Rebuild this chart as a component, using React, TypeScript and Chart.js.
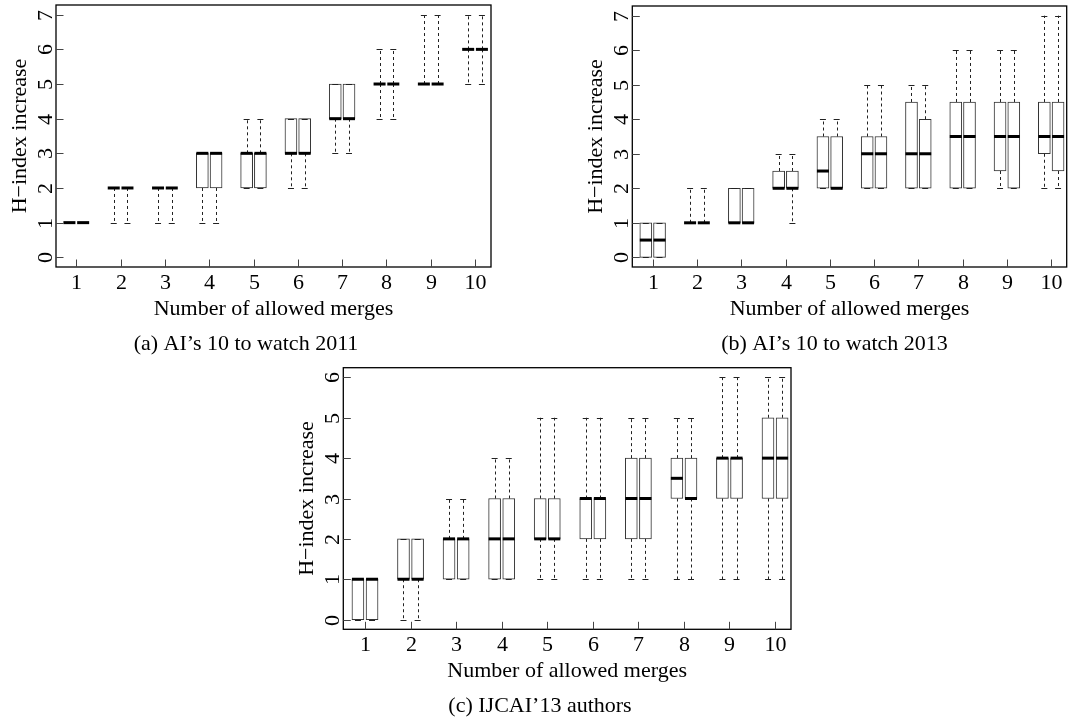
import React, { useEffect, useRef } from 'react';
import { Chart, registerables } from 'chart.js';

Chart.register(...registerables);

// ---------- data ----------
const categories = [1, 2, 3, 4, 5, 6, 7, 8, 9, 10];
const xTickLabels = ['1', '2', '3', '4', '5', '6', '7', '8', '9', '10'];
const yTickLabels7 = ['0', '1', '2', '3', '4', '5', '6', '7'];
const yTickLabels6 = ['0', '1', '2', '3', '4', '5', '6'];

// (a) AI's 10 to watch 2011
const aLeftLow = [1, 1, 1, 1, 2, 2, 3, 4, 5, 5];
const aLeftQ1 = [1, 2, 2, 2, 2, 3, 4, 5, 5, 6];
const aLeftMed = [1, 2, 2, 3, 3, 3, 4, 5, 5, 6];
const aLeftQ3 = [1, 2, 2, 3, 3, 4, 5, 5, 5, 6];
const aLeftHigh = [1, 2, 2, 3, 4, 4, 5, 6, 7, 7];
const aRightLow = [1, 1, 1, 1, 2, 2, 3, 4, 5, 5];
const aRightQ1 = [1, 2, 2, 2, 2, 3, 4, 5, 5, 6];
const aRightMed = [1, 2, 2, 3, 3, 3, 4, 5, 5, 6];
const aRightQ3 = [1, 2, 2, 3, 3, 4, 5, 5, 5, 6];
const aRightHigh = [1, 2, 2, 3, 4, 4, 5, 6, 7, 7];

// (b) AI's 10 to watch 2013
const bLeftLow = [0, 1, 1, 2, 2, 2, 2, 2, 2, 2];
const bLeftQ1 = [0, 1, 1, 2, 2, 2, 2, 2, 2.5, 3];
const bLeftMed = [0.5, 1, 1, 2, 2.5, 3, 3, 3.5, 3.5, 3.5];
const bLeftQ3 = [1, 1, 2, 2.5, 3.5, 3.5, 4.5, 4.5, 4.5, 4.5];
const bLeftHigh = [1, 2, 2, 3, 4, 5, 5, 6, 6, 7];
const bRightLow = [0, 1, 1, 1, 2, 2, 2, 2, 2, 2];
const bRightQ1 = [0, 1, 1, 2, 2, 2, 2, 2, 2, 2.5];
const bRightMed = [0.5, 1, 1, 2, 2, 3, 3, 3.5, 3.5, 3.5];
const bRightQ3 = [1, 1, 2, 2.5, 3.5, 3.5, 4, 4.5, 4.5, 4.5];
const bRightHigh = [1, 2, 2, 3, 4, 5, 5, 6, 6, 7];

// (c) IJCAI'13 authors
const cLeftLow = [0, 0, 1, 1, 1, 1, 1, 1, 1, 1];
const cLeftQ1 = [0, 1, 1, 1, 2, 2, 2, 3, 3, 3];
const cLeftMed = [1, 1, 2, 2, 2, 3, 3, 3.5, 4, 4];
const cLeftQ3 = [1, 2, 2, 3, 3, 3, 4, 4, 4, 5];
const cLeftHigh = [1, 2, 3, 4, 5, 5, 5, 5, 6, 6];
const cRightLow = [0, 0, 1, 1, 1, 1, 1, 1, 1, 1];
const cRightQ1 = [0, 1, 1, 1, 2, 2, 2, 3, 3, 3];
const cRightMed = [1, 1, 2, 2, 2, 3, 3, 3, 4, 4];
const cRightQ3 = [1, 2, 2, 3, 3, 3, 4, 4, 4, 5];
const cRightHigh = [1, 2, 3, 4, 5, 5, 5, 5, 6, 6];

const FONT = '22px "Liberation Serif", "Times New Roman", serif';

type Series = { low: number[]; q1: number[]; med: number[]; q3: number[]; high: number[] };

type PanelProps = {
  left: number; top: number; width: number; height: number;
  padding: { left: number; top: number; right: number; bottom: number };
  xMin: number; xMax: number; yMin: number; yMax: number;
  yTicks: string[];
  seriesL: Series; seriesR: Series;
  caption: string; captionX: number;
};

const decorPlugin = {
  id: 'boxDecor',
  afterDatasetsDraw(chart: any) {
    const ctx = chart.ctx;
    const ys = chart.scales.y;
    chart.data.datasets.forEach((ds: any, di: number) => {
      const st: Series = ds.stats;
      const meta = chart.getDatasetMeta(di);
      meta.data.forEach((bar: any, i: number) => {
        const cx = bar.x;
        const w = bar.width;
        const pLow = ys.getPixelForValue(st.low[i]);
        const pQ1 = ys.getPixelForValue(st.q1[i]);
        const pQ3 = ys.getPixelForValue(st.q3[i]);
        const pHigh = ys.getPixelForValue(st.high[i]);
        const pMed = ys.getPixelForValue(st.med[i]);
        ctx.save();
        ctx.strokeStyle = '#222';
        ctx.lineWidth = 1;
        ctx.setLineDash([3, 3]);
        const xc = Math.round(cx) + 0.5;
        if (st.high[i] > st.q3[i]) {
          ctx.beginPath(); ctx.moveTo(xc, pQ3); ctx.lineTo(xc, pHigh); ctx.stroke();
        }
        if (st.low[i] < st.q1[i]) {
          ctx.beginPath(); ctx.moveTo(xc, pQ1); ctx.lineTo(xc, pLow); ctx.stroke();
        }
        ctx.setLineDash([]);
        const cw = w / 4;
        ctx.beginPath();
        ctx.moveTo(cx - cw, Math.round(pHigh) + 0.5); ctx.lineTo(cx + cw, Math.round(pHigh) + 0.5);
        ctx.moveTo(cx - cw, Math.round(pLow) + 0.5); ctx.lineTo(cx + cw, Math.round(pLow) + 0.5);
        ctx.stroke();
        ctx.strokeStyle = '#000';
        ctx.lineWidth = 3;
        ctx.beginPath();
        ctx.moveTo(cx - w / 2, pMed); ctx.lineTo(cx + w / 2, pMed);
        ctx.stroke();
        ctx.restore();
      });
    });
  },
  afterDraw(chart: any) {
    const ctx = chart.ctx;
    const a = chart.chartArea;
    const xs = chart.scales.x;
    const ys = chart.scales.y;
    const o = chart.options.plugins.boxDecor;
    ctx.save();
    // frame
    ctx.strokeStyle = '#000';
    ctx.lineWidth = 1.3;
    ctx.strokeRect(a.left, a.top, a.right - a.left, a.bottom - a.top);
    // ticks (inward)
    ctx.strokeStyle = '#444';
    ctx.lineWidth = 1;
    ctx.fillStyle = '#000';
    ctx.font = FONT;
    categories.forEach((c, i) => {
      const px = Math.round(xs.getPixelForValue(c)) + 0.5;
      ctx.beginPath(); ctx.moveTo(px, a.bottom); ctx.lineTo(px, a.bottom - 7.5); ctx.stroke();
      ctx.textAlign = 'center';
      ctx.textBaseline = 'alphabetic';
      ctx.fillText(xTickLabels[i], px, a.bottom + 22);
    });
    o.yTicks.forEach((t: string) => {
      const v = Number(t);
      const py = Math.round(ys.getPixelForValue(v)) + 0.5;
      ctx.beginPath(); ctx.moveTo(a.left, py); ctx.lineTo(a.left + 7.5, py); ctx.stroke();
      ctx.save();
      ctx.translate(a.left - 4.5, py);
      ctx.rotate(-Math.PI / 2);
      ctx.textAlign = 'center';
      ctx.textBaseline = 'alphabetic';
      ctx.fillText(t, 0, 0);
      ctx.restore();
    });
    // y title
    ctx.save();
    ctx.translate(a.left - 30, (a.top + a.bottom) / 2);
    ctx.rotate(-Math.PI / 2);
    ctx.textAlign = 'center';
    ctx.fillText('H\u2212index increase', 0, 0);
    ctx.restore();
    // x title
    ctx.textAlign = 'center';
    ctx.fillText('Number of allowed merges', (a.left + a.right) / 2, a.bottom + 48);
    // caption
    ctx.fillText(o.caption, o.captionX, a.bottom + 82.5);
    ctx.restore();
  },
};

function makeBoxes(s: Series, offset: number) {
  return categories.map((c, i) => ({ x: c + offset, y: [s.q1[i], s.q3[i]] }));
}

function Panel(p: PanelProps) {
  const ref = useRef<HTMLCanvasElement | null>(null);
  useEffect(() => {
    if (!ref.current) return;
    const ds = (s: Series, off: number) => ({
      data: makeBoxes(s, off) as any,
      stats: s,
      backgroundColor: '#fff',
      borderColor: '#333',
      borderWidth: 1,
      borderSkipped: false,
      barThickness: 12,
      grouped: false,
    });
    const chart = new Chart(ref.current, {
      type: 'bar',
      data: { datasets: [ds(p.seriesL, -0.155) as any, ds(p.seriesR, 0.155) as any] },
      options: {
        animation: false,
        responsive: false,
        devicePixelRatio: 1,
        layout: { padding: p.padding },
        scales: {
          x: { type: 'linear', min: p.xMin, max: p.xMax, offset: false, display: false, grid: { offset: false } },
          y: { type: 'linear', min: p.yMin, max: p.yMax, display: false },
        },
        plugins: {
          legend: { display: false },
          tooltip: { enabled: false },
          boxDecor: { yTicks: p.yTicks, caption: p.caption, captionX: p.captionX },
        } as any,
      },
      plugins: [decorPlugin],
    });
    return () => chart.destroy();
  }, []);
  return (
    <canvas
      ref={ref}
      width={p.width}
      height={p.height}
      style={{ position: 'absolute', left: p.left, top: p.top, width: p.width, height: p.height }}
    />
  );
}

export default function App() {
  return (
    <div style={{ position: 'fixed', left: 0, top: 0, width: 1091, height: 719, background: '#fff' }}>
      <Panel
        left={0} top={0} width={545} height={365}
        padding={{ left: 56, top: 5, right: 54, bottom: 98 }}
        xMin={0.542} xMax={10.36} yMin={-0.28} yMax={7.28}
        yTicks={yTickLabels7}
        seriesL={{ low: aLeftLow, q1: aLeftQ1, med: aLeftMed, q3: aLeftQ3, high: aLeftHigh }}
        seriesR={{ low: aRightLow, q1: aRightQ1, med: aRightMed, q3: aRightQ3, high: aRightHigh }}
        caption={'(a) AI\u2019s 10 to watch 2011'} captionX={246}
      />
      <Panel
        left={545} top={0} width={546} height={365}
        padding={{ left: 87.3, top: 6, right: 24.3, bottom: 98 }}
        xMin={0.54} xMax={10.35} yMin={-0.28} yMax={7.28}
        yTicks={yTickLabels7}
        seriesL={{ low: bLeftLow, q1: bLeftQ1, med: bLeftMed, q3: bLeftQ3, high: bLeftHigh }}
        seriesR={{ low: bRightLow, q1: bRightQ1, med: bRightMed, q3: bRightQ3, high: bRightHigh }}
        caption={'(b) AI\u2019s 10 to watch 2013'} captionX={289.5}
      />
      <Panel
        left={250} top={340} width={600} height={379}
        padding={{ left: 93.3, top: 27.7, right: 59, bottom: 89.7 }}
        xMin={0.524} xMax={10.35} yMin={-0.24} yMax={6.24}
        yTicks={yTickLabels6}
        seriesL={{ low: cLeftLow, q1: cLeftQ1, med: cLeftMed, q3: cLeftQ3, high: cLeftHigh }}
        seriesR={{ low: cRightLow, q1: cRightQ1, med: cRightMed, q3: cRightQ3, high: cRightHigh }}
        caption={'(c) IJCAI\u201913 authors'} captionX={290}
      />
    </div>
  );
}
